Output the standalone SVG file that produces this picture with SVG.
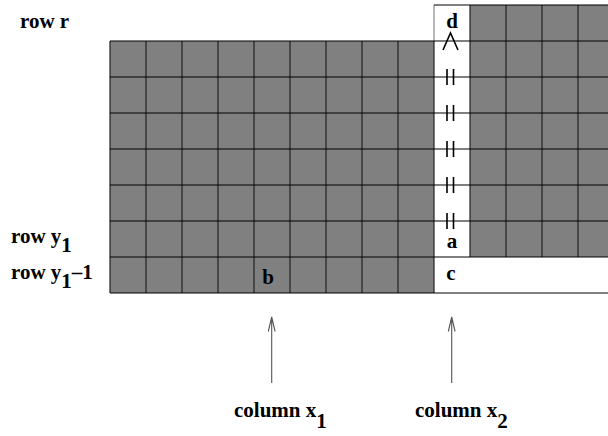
<svg xmlns="http://www.w3.org/2000/svg" width="608" height="436" viewBox="0 0 608 436">
<style>
.t{font-family:"Liberation Serif","Times New Roman",serif;font-weight:bold;font-size:21px;fill:#000}
.g{fill:#808080}
.gl{stroke:#000;stroke-width:1.2;fill:none}
.vl{stroke:#222;stroke-width:1.2;fill:none}
.mk{stroke:#000;stroke-width:1.6;fill:none}
.ar{stroke:#555;stroke-width:1.1;fill:none}
</style>
<rect width="608" height="436" fill="#fff"/>
<g id="grid">
<rect class="g" x="110" y="41" width="324" height="252"/>
<rect class="g" x="470" y="5" width="138" height="252"/>
<path class="vl" d="M110 41V293M146 41V293M182 41V293M218 41V293M254 41V293M290 41V293M326 41V293M362 41V293M398 41V293M434 41V293M470 5V257M506 5V257M542 5V257M578 5V257"/>
<path d="M434 5V41" stroke="#888" stroke-width="1.2"/>
<path class="gl" d="M434 5H608M110 41H608M110 77H608M110 113H608M110 149H608M110 185H608M110 221H608M110 257H608M110 293H608"/>
</g>
<g id="marks">
<polyline class="mk" points="443,50 450.5,33 458,50" stroke-width="2.2"/>
<path class="mk" d="M447 69V85M453.5 69V85M447 105V121M453.5 105V121M447 141V157M453.5 141V157M447 177V193M453.5 177V193M447 213V229M453.5 213V229"/>
</g>
<g id="cells">
<text class="t" x="452" y="28" text-anchor="middle">d</text>
<text class="t" x="452" y="248" text-anchor="middle">a</text>
<text class="t" x="451" y="280" text-anchor="middle">c</text>
<text class="t" x="268" y="284" text-anchor="middle">b</text>
</g>
<g id="rowlabels">
<text class="t" x="20" y="28">row r</text>
<text class="t" x="11" y="243">row y<tspan dy="9">1</tspan></text>
<text class="t" x="11" y="279">row y<tspan dy="9">1</tspan><tspan dy="-9">–1</tspan></text>
</g>
<g id="connectors">
<path class="ar" d="M271.7 383V317M268.3 331.5L271.7 317L275.1 331.5"/>
<path class="ar" d="M451.7 383V317M448.3 331.5L451.7 317L455.1 331.5"/>
</g>
<g id="collabels">
<text class="t" x="234" y="417">column x<tspan dy="11">1</tspan></text>
<text class="t" x="415" y="417">column x<tspan dy="11">2</tspan></text>
</g>
</svg>
